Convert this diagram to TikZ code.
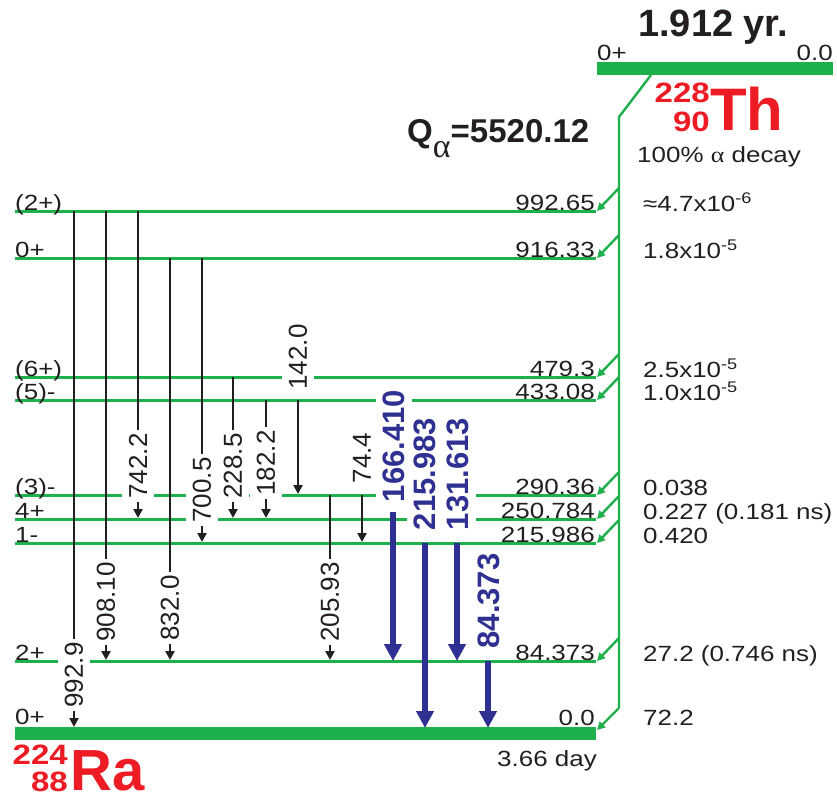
\documentclass[tikz,border=0pt]{standalone}
\usepackage{fontspec}
\setmainfont{Liberation Sans}
\newfontfamily\widefont[FakeStretch=1.18]{Liberation Sans}
\newfontfamily\grk{Liberation Serif}
\newfontfamily\widegrk[FakeStretch=1.18]{Liberation Serif}
\usetikzlibrary{arrows.meta}
\definecolor{grn}{RGB}{29,176,75}
\definecolor{bl}{RGB}{46,49,146}
\definecolor{rd}{RGB}{237,28,36}
\definecolor{tx}{RGB}{35,31,32}
\tikzset{
  lvl/.style={draw=grn, line width=3pt},
  gbar/.style={draw=grn, line width=13pt},
  feed/.style={draw=grn, line width=2.4pt, -{Triangle[width=8pt,length=8pt]}},
  feedline/.style={draw=grn, line width=2.4pt},
  gam/.style={draw=tx, line width=2.5pt, -{Triangle[width=9pt,length=9pt]}},
  bgam/.style={draw=bl, line width=6pt, -{Triangle[width=17pt,length=17pt]}},
  glab/.style={rotate=90, fill=white, text=tx, inner xsep=3pt, inner ysep=7pt, font=\fontsize{26}{26}\selectfont},
  blab/.style={rotate=90, fill=white, text=bl, inner xsep=3pt, inner ysep=7pt, font=\bfseries\fontsize{31}{31}\selectfont},
  sm/.style={text=tx, inner sep=0pt, font=\widefont\fontsize{22}{22}\selectfont},
  redsm/.style={text=rd, inner sep=0pt, font=\widefont\bfseries\fontsize{28}{28}\selectfont},
}
\begin{document}
\begin{tikzpicture}[x=1pt,y=1pt]
\useasboundingbox (0,0) rectangle (837,-800);
% parent level
\coordinate (pl) at (597,-68.5);
\coordinate (pr) at (833,-68.5);
\draw[gbar] (pl) -- (pr);
% excited levels
\foreach \nm/\y in {a/211,b/258,c/377,d/400,e/495,f/519,g/543,h/661}{
  \coordinate (l\nm) at (15,-\y);
  \coordinate (r\nm) at (596,-\y);
  \draw[lvl] (l\nm) -- (r\nm);
  \coordinate (f\nm) at (619,-\y+23);
  \coordinate (e\nm) at (597,-\y);
  \draw[feed] (f\nm) -- (e\nm);
}
% ground level
\coordinate (lz) at (15,-733);
\coordinate (rz) at (596,-733);
\draw[gbar] (lz) -- (rz);
% alpha feeding line
\coordinate (fTop) at (651,-75);
\coordinate (fBend) at (619,-117);
\coordinate (fBot) at (619,-708);
\coordinate (ez) at (597,-730);
\draw[feedline] (fTop) -- (fBend) -- (fBot);
\draw[feed] (fBot) -- (ez);
% gamma transitions (black)
\foreach \nm/\x/\ya/\yb in {1/74/211/727, 2/106/211/660, 3/138/211/518, 4/170/258/660, 5/202/258/542, 6/233/377/518, 7/266/400/518, 8/298/400/494, 9/330/495/660, 10/362/495/542}{
  \coordinate (g\nm a) at (\x,-\ya);
  \coordinate (g\nm b) at (\x,-\yb);
  \draw[gam] (g\nm a) -- (g\nm b);
}
% gamma transitions (blue)
\foreach \nm/\x/\ya/\yb in {1/393/512/661, 2/425/543/728, 3/457/543/661, 4/488/661/728}{
  \coordinate (b\nm a) at (\x,-\ya);
  \coordinate (b\nm b) at (\x,-\yb);
  \draw[bgam] (b\nm a) -- (b\nm b);
}
% gamma labels
\foreach \nm/\x/\ly/\lab in {1/74/675/992.9, 2/106/602/908.10, 3/138/466/742.2, 4/170/608/832.0, 5/202/490/700.5, 6/233/466/228.5, 7/266/463/182.2, 8/298/357/142.0, 9/330/602/205.93, 10/362/458/74.4}{
  \node[glab] (gl\nm) at (\x,-\ly) {\lab};
}
\foreach \nm/\x/\ly/\lab in {1/394/446/166.410, 2/425/474/215.983, 3/457.5/474/131.613, 4/489/601/84.373}{
  \node[blab] (bl\nm) at (\x,-\ly) {\lab};
}
% level texts
\foreach \nm/\y/\spn/\enr/\inten in {a/211/(2+)/992.65/{≈4.7x10\textsuperscript{-6}}, b/258/0+/916.33/{1.8x10\textsuperscript{-5}}, c/377/(6+)/479.3/{2.5x10\textsuperscript{-5}}, d/400/(5)-/433.08/{1.0x10\textsuperscript{-5}}, e/495/(3)-/290.36/{0.038}, f/519/4+/250.784/{0.227 (0.181 ns)}, g/543/1-/215.986/{0.420}, h/661/2+/84.373/{27.2 (0.746 ns)}}{
  \node[sm, anchor=base west] (s\nm) at (15,-\y+1) {\spn};
  \node[sm, anchor=base east] (E\nm) at (595,-\y+1) {\enr};
  \node[sm, anchor=base west] (I\nm) at (643,-\y) {\inten};
}
\node[sm, anchor=base west] (sz) at (15,-724) {0+};
\node[sm, anchor=base east] (Ez) at (595,-725) {0.0};
\node[sm, anchor=base west] (Iz) at (643,-725) {72.2};
\node[sm, anchor=base east] (hl) at (597,-766) {3.66 day};
% parent texts
\node[sm, anchor=base west] (ps) at (597,-60) {0+};
\node[sm, anchor=base east] (pe) at (833,-60) {0.0};
\node[anchor=base west, inner sep=0pt, text=tx, font=\bfseries\fontsize{38}{38}\selectfont] (phl) at (638,-37) {1.912 yr.};
\node[sm, anchor=base west] (dec) at (637,-162) {100\% {\widegrk α} decay};
\node[anchor=base west, inner sep=0pt, text=tx, font=\bfseries\fontsize{33}{33}\selectfont] (q) at (407,-142) {Q\raisebox{-15pt}{\mdseries\fontsize{34}{34}\selectfont\grk α}=5520.12};
% nuclide names
\node[redsm, anchor=base east] (tha) at (710,-102) {228};
\node[redsm, anchor=base east] (thz) at (710,-131) {90};
\node[anchor=base west, inner sep=0pt, text=rd, font=\bfseries\fontsize{60}{60}\selectfont] (th) at (710,-130) {Th};
\node[redsm, anchor=base east] (raa) at (68,-764) {224};
\node[redsm, anchor=base east] (raz) at (68,-791) {88};
\node[anchor=base west, inner sep=0pt, text=rd, font=\bfseries\fontsize{58}{58}\selectfont] (ra) at (70,-790) {Ra};
\end{tikzpicture}
\end{document}
